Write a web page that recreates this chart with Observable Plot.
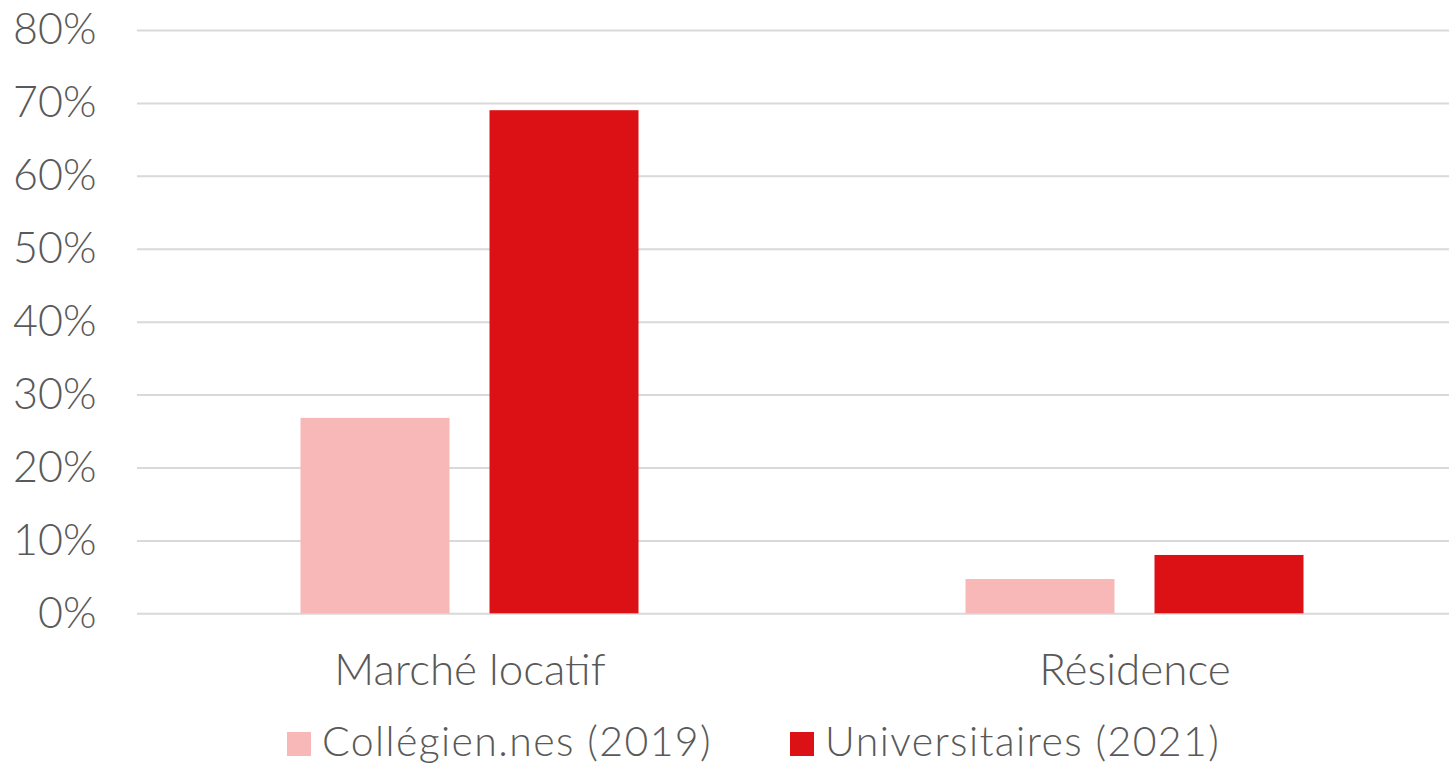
<!DOCTYPE html>
<html>
<head>
<meta charset="utf-8">
<script src="https://cdn.jsdelivr.net/npm/d3@7"></script>
<script src="https://cdn.jsdelivr.net/npm/@observablehq/plot@0.6"></script>
<style>
  html, body { margin: 0; padding: 0; background: #fff; overflow: hidden; }
  body { font-family: Lato, "Open Sans", sans-serif; font-weight: 300; color: #595959; position: relative; width: 1449px; height: 767px; }
  #chart svg { display: block; }
  #legend { position: absolute; left: 287px; top: 719px; display: flex; align-items: flex-start; font-size: 41px; line-height: 44px; letter-spacing: 1.4px; white-space: nowrap; }
  .item { display: flex; align-items: flex-start; margin-right: 78px; }
  .sw { width: 24px; height: 24px; margin-right: 11px; margin-top: 13px; }
</style>
</head>
<body>
<div id="chart"></div>
<div id="legend"></div>
<script>
const categories = ["Marché locatif", "Résidence"];
const series = ["Collégien.nes (2019)", "Universitaires (2021)"];
const colors = ["#F9B8B8", "#DC1115"];
const collegiens = [0.268, 0.047];
const universitaires = [0.69, 0.080];
const yTicks = [0, 0.1, 0.2, 0.3, 0.4, 0.5, 0.6, 0.7, 0.8];

const data = [];
categories.forEach((c, i) => {
  data.push({category: c, series: series[0], value: collegiens[i]});
  data.push({category: c, series: series[1], value: universitaires[i]});
});

const chart = Plot.plot({
  width: 1449,
  height: 700,
  marginLeft: 136.5,
  marginRight: -17.5,
  marginTop: 30,
  marginBottom: 86.7,
  style: {fontFamily: "Lato, 'Open Sans', sans-serif", fontWeight: 300, fontSize: "40px", color: "#595959", background: "#fff"},
  fx: {domain: categories, padding: 0},
  x: {domain: series, paddingInner: 0.2116, paddingOuter: 0.865, axis: null},
  y: {domain: [0, 0.8]},
  color: {domain: series, range: colors},
  marks: [
    Plot.gridY(yTicks, {stroke: "#d9d9d9", strokeOpacity: 1, strokeWidth: 2}),
    Plot.barY(data, {fx: "category", x: "series", y: "value", fill: "series"}),
    Plot.axisY(yTicks, {tickSize: 0, tickPadding: 41, tickFormat: d3.format(".0%"), label: null, fontSize: 43, fill: "#595959"}),
    Plot.axisFx({anchor: "bottom", tickSize: 0, tickPadding: 39.5, label: null, fontSize: 44, fill: "#595959"})
  ]
});
document.getElementById("chart").appendChild(chart);

const legend = document.getElementById("legend");
series.forEach((s, i) => {
  const item = document.createElement("div");
  item.className = "item";
  const sw = document.createElement("div");
  sw.className = "sw";
  sw.style.background = colors[i];
  const t = document.createElement("span");
  t.textContent = s;
  item.appendChild(sw);
  item.appendChild(t);
  legend.appendChild(item);
});
</script>
</body>
</html>
